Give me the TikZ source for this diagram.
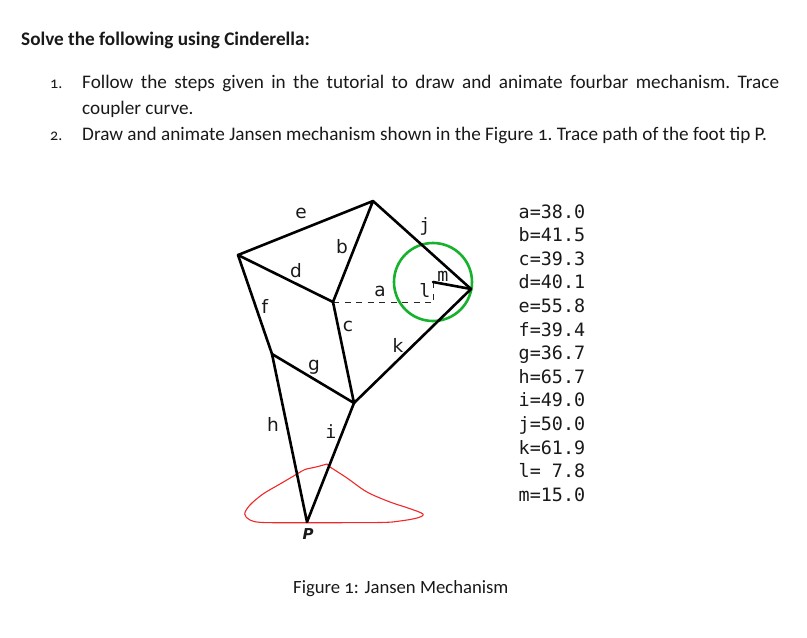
\documentclass[tikz,border=0pt]{standalone}
\usepackage{fontspec}
\setmainfont[Numbers=OldStyle]{Carlito}
\newfontfamily\monof{DejaVu Sans Mono}
\newfontfamily\labf{DejaVu Sans}
\definecolor{loopgreen}{RGB}{22,178,44}
\definecolor{tracered}{RGB}{240,40,40}
\definecolor{inkc}{RGB}{25,25,25}
\tikzset{
 link/.style={line width=2.6pt,black,line cap=round,line join=round},
 dashlink/.style={line width=0.9pt,black!85,dash pattern=on 6pt off 5.5pt},
 txt/.style={inner sep=0pt,anchor=base west,font=\fontsize{19.2}{19.2}\selectfont\frenchspacing,text=inkc},
 lbl/.style={inner sep=0pt,font=\labf\fontsize{18.5}{18.5}\selectfont,text=inkc},
 mlbl/.style={inner sep=0pt,font=\monof\fontsize{18.3}{18.3}\selectfont,text=inkc},
 val/.style={inner sep=0pt,anchor=base west,font=\monof\fontsize{18.4}{18.4}\selectfont,text=inkc}
}
\begin{document}
\begin{tikzpicture}[x=1pt,y=-1pt]
\useasboundingbox (0,0) rectangle (807,638);
\coordinate (A) at (373,201);
\coordinate (B) at (238,255);
\coordinate (C) at (333,302);
\coordinate (D) at (354,403);
\coordinate (E) at (471,289);
\coordinate (F) at (433,282);
\coordinate (Q) at (433,302);
\coordinate (G) at (272,354);
\coordinate (P) at (307,522);
% trace
\draw[tracered,line width=1.1pt,line join=round]
 plot[smooth,tension=0.55] coordinates {(307,522.7) (263,522.5) (250,520) (244.7,514) (250,505) (263,494) (280,484) (297,474) (305,469.5) (316,467) (327,464)}
 -- (330,467)
 plot[smooth,tension=0.55] coordinates {(330,467) (347,478) (367,492) (390,502) (408,508) (423,514) (417,518) (400,521) (380,522.5) (307,522.7)};
% crank circle
\node[circle,draw=loopgreen,line width=2.6pt,minimum size=78pt,inner sep=0pt] (crank) at (F) {};
% links
\draw[dashlink] (C) -- (Q);
\draw[dashlink] (F) -- (Q);
\draw[link] (B) -- (A) -- (E) -- (D) -- (C) -- (A);
\draw[link] (B) -- (C);
\draw[link] (B) -- (G) -- (D);
\draw[link] (G) -- (P) -- (D);
\draw[link] (F) -- (E);
% link labels
\node[lbl] (le) at (301,213) {e};
\node[lbl] (lb) at (342,247) {b};
\node[lbl] (ld) at (296,271) {d};
\node[lbl] (lf) at (265,306) {f};
\node[lbl] (la) at (380,291) {a};
\node[lbl] (lc) at (348,326) {c};
\node[lbl] (lk) at (398,345) {k};
\node[lbl] (lg) at (314,367) {g};
\node[lbl] (lh) at (273,424) {h};
\node[mlbl] (li) at (331,432) {i};
\node[mlbl] (lj) at (425,226) {j};
\node[mlbl] (ll) at (425,290) {l};
\node[mlbl] (lm) at (443,276) {m};
\node[inner sep=0pt,font=\labf\bfseries\itshape\fontsize{15}{15}\selectfont,text=inkc] (lP) at (308,534) {P};
% values
\node[val] (v1) at (518.5,218) {a=38.0};
\node[val] (v2) at (518.5,241.6) {b=41.5};
\node[val] (v3) at (518.5,265.2) {c=39.3};
\node[val] (v4) at (518.5,288.8) {d=40.1};
\node[val] (v5) at (518.5,312.4) {e=55.8};
\node[val] (v6) at (518.5,336) {f=39.4};
\node[val] (v7) at (518.5,359.6) {g=36.7};
\node[val] (v8) at (518.5,383.2) {h=65.7};
\node[val] (v9) at (518.5,406.8) {i=49.0};
\node[val] (v10) at (518.5,430.4) {j=50.0};
\node[val] (v11) at (518.5,454) {k=61.9};
\node[val] (v12) at (518.5,477.6) {l= 7.8};
\node[val] (v13) at (518.5,501.2) {m=15.0};
% text
\node[txt,font=\bfseries\fontsize{19.2}{19.2}\selectfont] (title) at (21,45) {Solve the following using Cinderella:};
\node[txt,font=\fontsize{16}{16}\selectfont] (n1) at (50,88) {1.};
\node[txt] (t1) at (82,88) {\makebox[697pt][s]{Follow the steps given in the tutorial to draw and animate fourbar mechanism. Trace}};
\node[txt] (t1b) at (82,114) {coupler curve.};
\node[txt,font=\fontsize{16}{16}\selectfont] (n2) at (50,140) {2.};
\node[txt] (t2) at (82,140) {Draw and animate Jansen mechanism shown in the Figure 1. Trace path of the foot tip P.};
\node[txt,font=\fontsize{18.7}{18.7}\selectfont] (cap) at (293,593) {Figure 1: Jansen Mechanism};
\end{tikzpicture}
\end{document}
